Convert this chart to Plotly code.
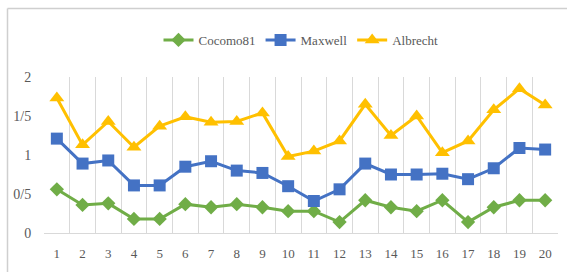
import plotly.graph_objects as go

categories = list(range(1, 21))
cocomo81 = [0.56, 0.36, 0.38, 0.18, 0.18, 0.37, 0.33, 0.37, 0.33, 0.28,
            0.28, 0.14, 0.42, 0.33, 0.28, 0.42, 0.14, 0.33, 0.42, 0.42]
maxwell = [1.21, 0.89, 0.93, 0.61, 0.61, 0.85, 0.92, 0.80, 0.77, 0.60,
           0.41, 0.56, 0.89, 0.75, 0.75, 0.76, 0.69, 0.83, 1.09, 1.07]
albrecht = [1.73, 1.13, 1.43, 1.10, 1.37, 1.49, 1.42, 1.43, 1.54, 0.98,
            1.05, 1.18, 1.65, 1.25, 1.50, 1.03, 1.18, 1.58, 1.85, 1.64]
y_tickvals = [0, 0.5, 1, 1.5, 2]
y_ticktext = ["0", "0/5", "1", "1/5", "2"]

fig = go.Figure()
fig.add_trace(go.Scatter(x=categories, y=cocomo81, name="Cocomo81", mode="lines+markers",
                         line=dict(color="#70AD47", width=3),
                         marker=dict(symbol="diamond", size=11, color="#70AD47")))
fig.add_trace(go.Scatter(x=categories, y=maxwell, name="Maxwell", mode="lines+markers",
                         line=dict(color="#4472C4", width=3),
                         marker=dict(symbol="square", size=12, color="#4472C4")))
fig.add_trace(go.Scatter(x=categories, y=albrecht, name="Albrecht", mode="lines+markers",
                         line=dict(color="#FFC000", width=3),
                         marker=dict(symbol="triangle-up", size=13, color="#FFC000")))

L, R, T, B = 44, 10, 77, 40
W, H = 568, 273
pw, ph = W - L - R, H - T - B

fig.update_layout(
    width=W, height=H,
    margin=dict(l=L, r=R, t=T, b=B),
    paper_bgcolor="white", plot_bgcolor="white",
    showlegend=True,
    legend=dict(orientation="h", x=0.5, xanchor="center", y=1 + 37 / ph, yanchor="middle",
                font=dict(family="Liberation Serif", size=13, color="#595959"),
                itemwidth=30, tracegroupgap=0, bgcolor="rgba(0,0,0,0)"),
    xaxis=dict(range=[0.5, 20.5], tickvals=categories, ticktext=[str(c) for c in categories],
               showgrid=False, zeroline=False, showline=False,
               ticks="outside", ticklen=8, tickcolor="rgba(0,0,0,0)",
               tickfont=dict(family="Liberation Sans Narrow", size=13, color="#595959"),
               minor=dict(tick0=0.5, dtick=1, showgrid=True, gridcolor="#D9D9D9", gridwidth=1)),
    yaxis=dict(range=[0, 2], tickvals=y_tickvals, ticktext=y_ticktext,
               showgrid=False, zeroline=True, zerolinecolor="#D9D9D9", zerolinewidth=1,
               showline=False, ticks="outside", ticklen=9, tickcolor="rgba(0,0,0,0)",
               tickfont=dict(family="Liberation Sans Narrow", size=14, color="#595959")),
    shapes=[
        dict(type="line", xref="paper", yref="paper", layer="above",
             x0=(7.5 - L) / pw, x1=(W - 1 - L) / pw,
             y0=(H - 8.5 - B) / ph, y1=(H - 8.5 - B) / ph,
             line=dict(color="#CFCFCF", width=1.5)),
        dict(type="line", xref="paper", yref="paper", layer="above",
             x0=(7.5 - L) / pw, x1=(7.5 - L) / pw,
             y0=(H - 8.5 - B) / ph, y1=-(B - 1) / ph,
             line=dict(color="#CFCFCF", width=1.5)),
    ],
)

fig.write_html("out.html", config={"displayModeBar": False},
               post_script="document.body.style.margin='0';document.body.style.overflow='hidden';")
